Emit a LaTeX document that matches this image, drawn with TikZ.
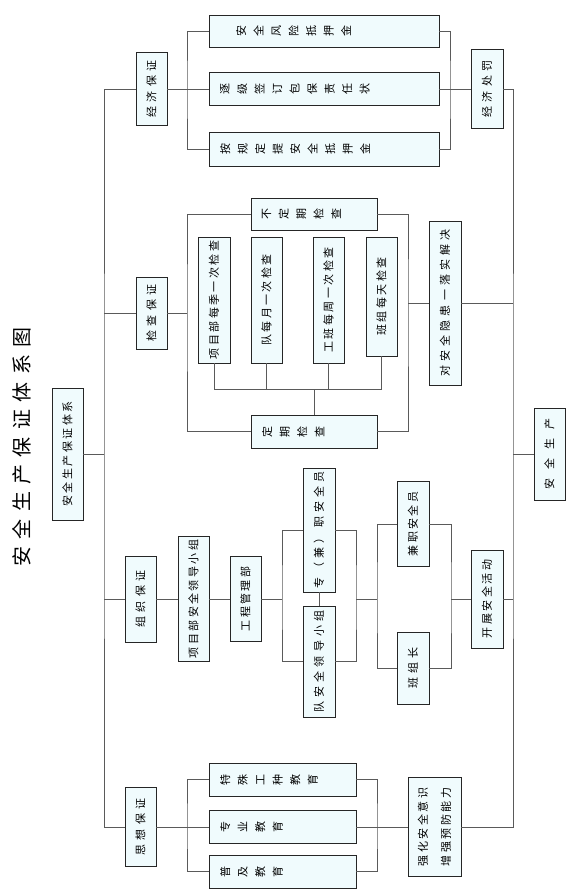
\documentclass[tikz,border=0pt]{standalone}
\usepackage{fontspec}
\usepackage{xcolor}
\usepackage{tikz}
\newfontfamily\cjk[LetterSpace=22]{Noto Sans CJK SC}
\newfontfamily\cjkwide[LetterSpace=38]{Noto Sans CJK SC}
\newfontfamily\cjkstack{Noto Sans CJK SC}
\newfontfamily\cjktitle[LetterSpace=37]{Noto Sans CJK SC}
\definecolor{boxfill}{RGB}{240,251,253}
\definecolor{linecol}{RGB}{90,90,90}
\newcommand{\vstack}[2]{\parbox[c][#1][t]{14pt}{\centering #2}}

\begin{document}
\begin{tikzpicture}[x=1pt, y=-1pt,
  box/.style={draw=black!85, line width=0.7pt, fill=boxfill, rotate=90, inner sep=0pt,
    font=\cjk\fontsize{11}{13}\selectfont},
  widebox/.style={box, font=\cjkwide\fontsize{11}{13}\selectfont},
  stackbox/.style={box, font=\cjkstack\fontsize{11}{17.5}\selectfont},
  link/.style={draw=linecol, line width=1pt}]
  \useasboundingbox (0,0) rectangle (575,895);

  \node[rotate=90, font=\cjktitle\fontsize{20}{24}\selectfont] (title) at (22,447) {安全生产保证体系图};
  \node[box, minimum width=132pt, minimum height=31pt] (root) at (67.5,454) {安全生产保证体系};

  % four guarantees
  \node[widebox, minimum width=73pt, minimum height=31pt] (jjbz) at (151.5,89) {经济保证};
  \node[widebox, minimum width=72pt, minimum height=31pt] (jcbz) at (151.5,313) {检查保证};
  \node[widebox, minimum width=86pt, minimum height=31pt] (zzbz) at (140.5,599) {组织保证};
  \node[widebox, minimum width=79pt, minimum height=31pt] (sxbz) at (140.5,827) {思想保证};

  % economy
  \node[stackbox, minimum width=32pt, minimum height=230pt] (fx) at (324,31)
    {\vstack{208pt}{\vspace*{16pt}安\\全\\风\\险\\抵\\押\\金}};
  \node[stackbox, minimum width=33pt, minimum height=230pt] (zr) at (324,89)
    {\vstack{208pt}{逐\\级\\签\\订\\包\\保\\责\\任\\状}};
  \node[stackbox, minimum width=34pt, minimum height=230pt] (dy) at (324,149)
    {\vstack{208pt}{按\\规\\定\\提\\安\\全\\抵\\押\\金}};
  \node[widebox, minimum width=79pt, minimum height=32pt] (jjcf) at (487,89) {经济处罚};

  % inspection
  \node[stackbox, minimum width=32pt, minimum height=126pt] (bdq) at (314,214)
    {\vstack{104pt}{不\\定\\期\\检\\查}};
  \node[stackbox, minimum width=33pt, minimum height=126pt] (dq) at (314,431.5)
    {\vstack{104pt}{定\\期\\检\\查}};
  \node[box, minimum width=126pt, minimum height=32pt] (j1) at (214,300) {项目部每季一次检查};
  \node[box, minimum width=126pt, minimum height=31pt] (j2) at (266.5,300) {队每月一次检查};
  \node[box, minimum width=126pt, minimum height=31pt] (j3) at (328.5,300) {工班每周一次检查};
  \node[box, minimum width=119pt, minimum height=31pt] (j4) at (381.5,296.5) {班组每天检查};
  \node[widebox, minimum width=164pt, minimum height=32pt] (yh) at (445,303) {对安全隐患一落实解决};

  % organisation
  \node[box, minimum width=125pt, minimum height=31pt] (xmb) at (193.5,599) {项目部安全领导小组};
  \node[box, minimum width=85pt, minimum height=31pt] (gcb) at (245.5,599) {工程管理部};
  \node[widebox, minimum width=124pt, minimum height=32pt] (zjy) at (319,530) {专（兼）职安全员};
  \node[widebox, minimum width=111pt, minimum height=32pt] (dxz) at (319,661.5) {队安全领导小组};
  \node[box, minimum width=85pt, minimum height=32pt] (jzy) at (413,524) {兼职安全员};
  \node[widebox, minimum width=72pt, minimum height=32pt] (bzz) at (413,668) {班组长};
  \node[box, minimum width=98pt, minimum height=32pt] (kz) at (487,599) {开展安全活动};
  \node[box, minimum width=92pt, minimum height=31pt,
    font=\cjk\fontsize{11}{13}\selectfont\addfontfeature{LetterSpace=80}] (aqsc) at (549.5,454) {安全生产};

  % education
  \node[stackbox, minimum width=33pt, minimum height=147pt] (ts) at (282.5,779.5)
    {\vstack{125pt}{特\\殊\\工\\种\\教\\育}};
  \node[stackbox, minimum width=33pt, minimum height=147pt] (zy) at (282.5,827)
    {\vstack{125pt}{专\\业\\教\\育}};
  \node[stackbox, minimum width=33pt, minimum height=147pt] (pj) at (282.5,871.5)
    {\vstack{125pt}{普\\及\\教\\育}};
  \node[box, minimum width=99pt, minimum height=53pt, align=center,
    font=\cjk\fontsize{11}{23}\selectfont] (qh) at (434.5,827) {强化安全意识\\增强预防能力};

  % trunks
  \coordinate (tl) at (104,454);
  \coordinate (tr) at (513,454);
  \draw[link] (jjbz) -| (tl) |- (sxbz);
  \draw[link] (root) -- (tl);
  \draw[link] (jcbz) -- (jcbz -| tl);
  \draw[link] (zzbz) -- (zzbz -| tl);
  \draw[link] (jjcf) -| (tr) |- (qh);
  \draw[link] (aqsc) -- (tr);

  \coordinate (e1) at (187,89);
  \coordinate (e2) at (450,89);
  \draw[link] (fx) -| (e1) |- (dy);
  \draw[link] (fx) -| (e2) |- (dy);
  \draw[link] (jjbz) -- (zr);
  \draw[link] (zr) -- (jjcf);

  \coordinate (c1) at (187,313);
  \coordinate (c2) at (408,303);
  \coordinate (bus) at (314,389);
  \draw[link] (jcbz) -- (c1);
  \draw[link] (bdq) -| (c1) |- (dq);
  \draw[link] (bdq) -| (c2) |- (dq);
  \draw[link] (c2) -- (yh);
  \draw[link] (yh) -- (yh -| tr);
  \draw[link] (j1) |- (bus) -- (dq);
  \draw[link] (j4) |- (bus);
  \draw[link] (j2) -- (j2 |- bus);
  \draw[link] (j3) -- (j3 |- bus);

  \coordinate (o1) at (282,599);
  \coordinate (o2) at (356,599);
  \coordinate (o3) at (377,599);
  \coordinate (o4) at (451,599);
  \draw[link] (zzbz) -- (xmb);
  \draw[link] (xmb) -- (gcb);
  \draw[link] (gcb) -- (o1);
  \draw[link] (zjy) -| (o1) |- (dxz);
  \draw[link] (zjy) -- (dxz);
  \draw[link] (zjy) -| (o2) |- (dxz);
  \draw[link] (o2) -- (o3);
  \draw[link] (jzy) -| (o3) |- (bzz);
  \draw[link] (jzy) -| (o4) |- (bzz);
  \draw[link] (o4) -- (kz);
  \draw[link] (kz) -- (kz -| tr);

  \coordinate (s1) at (187,827);
  \coordinate (s2) at (377,827);
  \draw[link] (ts) -| (s1) |- (pj);
  \draw[link] (ts) -| (s2) |- (pj);
  \draw[link] (sxbz) -- (zy);
  \draw[link] (zy) -- (qh);
\end{tikzpicture}
\end{document}
